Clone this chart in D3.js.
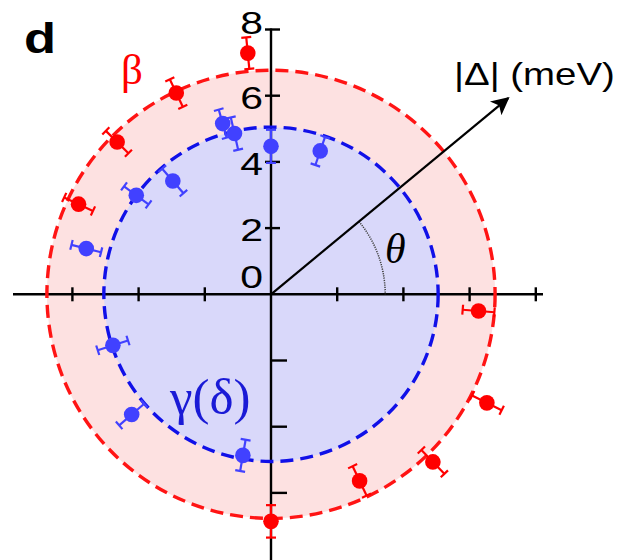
<!DOCTYPE html>
<html>
<head>
<meta charset="utf-8">
<script src="https://cdn.jsdelivr.net/npm/d3@7"></script>
<style>
  html, body { margin: 0; padding: 0; background: #fff; }
  svg { display: block; }
</style>
</head>
<body>
<svg id="chart" width="621" height="560"></svg>
<script>
// Gap magnitude |Δ| (meV) versus Fermi-surface angle θ (degrees), polar view.
const betaAngles = [95.5, 115.2, 135.3, 154.9, -4.6, -26.7, -46.0, -64.6, -90];
const betaGap    = [7.32, 6.72, 6.54, 6.42, 6.29, 7.30, 7.04, 6.24, 6.86];
const betaErr    = [0.48, 0.46, 0.48, 0.48, 0.48, 0.50, 0.50, 0.49, 0.49];

const gammaAngles = [90, 71.05, 105.8, 102.8, 130.9, 143.7, 166.1, 197.9, 220.8, 260.1];
const gammaGap    = [4.47, 4.58, 5.36, 4.98, 4.53, 5.05, 5.75, 5.02, 5.56, 4.94];
const gammaErr    = [0.50, 0.45, 0.44, 0.50, 0.49, 0.46, 0.46, 0.48, 0.50, 0.48];

// Isotropic gap fits for each band (meV)
const betaFit  = 6.77;
const gammaFit = 5.05;

const yTickValues = [8, 6, 4, 2, 0];
const axisTicksPos = [2, 4, 6, 8];
const axisTicksNeg = [-6, -4, -2];

const arrowAngle = 39.6;   // θ marked by the arrow (deg)
const arrowLength = 9.3;   // meV
const thetaArcRadius = 3.45;

const cx = 271, cy = 294.3, unit = 33.1;

const svg = d3.select("#chart");

const x = d3.scaleLinear().domain([-8, 8]).range([cx - 8 * unit, cx + 8 * unit]);
const y = d3.scaleLinear().domain([-8, 8]).range([cy + 8 * unit, cy - 8 * unit]);
const rad = d3.scaleLinear().domain([0, 8]).range([0, 8 * unit]);

const toRad = a => a * Math.PI / 180;
const px = (r, a) => x(r * Math.cos(toRad(a)));
const py = (r, a) => y(r * Math.sin(toRad(a)));

// Filled bands
svg.append("circle").attr("cx", x(0)).attr("cy", y(0)).attr("r", rad(betaFit))
  .attr("fill", "#fde1e1");
svg.append("circle").attr("cx", x(0)).attr("cy", y(0)).attr("r", rad(gammaFit))
  .attr("fill", "#d9d8fa");

// Axes
const axes = svg.append("g").attr("stroke", "#000").attr("stroke-width", 2.4);
axes.append("line").attr("x1", 13).attr("x2", 543).attr("y1", y(0)).attr("y2", y(0));
axes.append("line").attr("x1", x(0)).attr("x2", x(0)).attr("y1", y(8) - 1).attr("y2", 560);
axes.selectAll(".xt").data(axisTicksNeg.concat(axisTicksPos)).join("line")
  .attr("x1", d => x(d)).attr("x2", d => x(d))
  .attr("y1", y(0) - 7).attr("y2", y(0) + 7);
axes.selectAll(".ytp").data(axisTicksPos).join("line")
  .attr("x1", x(0) - 6).attr("x2", x(0) + 9)
  .attr("y1", d => y(d)).attr("y2", d => y(d));
axes.selectAll(".ytn").data(axisTicksNeg).join("line")
  .attr("x1", x(0)).attr("x2", x(0) + 16)
  .attr("y1", d => y(d)).attr("y2", d => y(d));

// Tick labels on the vertical axis
const labelShift = d => d === 8 ? 4 : (d === 0 ? -6 : 13);
svg.selectAll(".ylab").data(yTickValues).join("text")
  .attr("transform", d => `translate(${x(0) - 8},${y(d) + labelShift(d)}) scale(1.32,1)`)
  .attr("text-anchor", "end")
  .attr("font-family", "Liberation Sans, Arial, sans-serif")
  .attr("font-size", 31)
  .attr("fill", "#000")
  .text(d => d);

// Dashed fit circles
svg.append("circle").attr("cx", x(0)).attr("cy", y(0)).attr("r", rad(betaFit))
  .attr("fill", "none").attr("stroke", "#ff1414").attr("stroke-width", 3.4)
  .attr("stroke-dasharray", "13,7");
svg.append("circle").attr("cx", x(0)).attr("cy", y(0)).attr("r", rad(gammaFit))
  .attr("fill", "none").attr("stroke", "#1010e8").attr("stroke-width", 3.4)
  .attr("stroke-dasharray", "13,7");

// θ arc (dotted)
const arc = d3.arc().innerRadius(rad(thetaArcRadius)).outerRadius(rad(thetaArcRadius))
  .startAngle(Math.PI / 2 - toRad(arrowAngle)).endAngle(Math.PI / 2);
svg.append("path").attr("d", arc())
  .attr("transform", `translate(${x(0)},${y(0)})`)
  .attr("fill", "none").attr("stroke", "#444").attr("stroke-width", 1.5)
  .attr("stroke-dasharray", "1,1.3");

// Arrow
svg.append("defs").append("marker")
  .attr("id", "head").attr("viewBox", "0 0 10 10").attr("refX", 9).attr("refY", 5)
  .attr("markerUnits", "userSpaceOnUse").attr("markerWidth", 30).attr("markerHeight", 18)
  .attr("orient", "auto")
  .append("path").attr("d", "M0,0 L10,5 L0,10 L2.5,5 Z").attr("fill", "#000");
svg.append("line")
  .attr("x1", x(0)).attr("y1", y(0))
  .attr("x2", px(arrowLength, arrowAngle)).attr("y2", py(arrowLength, arrowAngle))
  .attr("stroke", "#000").attr("stroke-width", 2.2)
  .attr("marker-end", "url(#head)");

// Data points with radial error bars
function drawSeries(angles, gaps, errs, color) {
  const g = svg.append("g");
  const rows = angles.map((a, i) => ({ a, r: gaps[i], e: errs[i] }));
  const cap = 5;
  rows.forEach(d => {
    const ux = Math.cos(toRad(d.a)), uy = Math.sin(toRad(d.a));
    const lo = d.r - d.e, hi = d.r + d.e;
    g.append("line")
      .attr("x1", px(lo, d.a)).attr("y1", py(lo, d.a))
      .attr("x2", px(hi, d.a)).attr("y2", py(hi, d.a))
      .attr("stroke", color).attr("stroke-width", 2.2);
    [lo, hi].forEach(v => {
      g.append("line")
        .attr("x1", px(v, d.a) - cap * uy).attr("y1", py(v, d.a) - cap * ux)
        .attr("x2", px(v, d.a) + cap * uy).attr("y2", py(v, d.a) + cap * ux)
        .attr("stroke", color).attr("stroke-width", 2.2);
    });
  });
  g.selectAll("circle").data(rows).join("circle")
    .attr("cx", d => px(d.r, d.a)).attr("cy", d => py(d.r, d.a))
    .attr("r", 7.8).attr("fill", color);
}
drawSeries(gammaAngles, gammaGap, gammaErr, "#4141ff");
drawSeries(betaAngles, betaGap, betaErr, "#ff0000");

// Labels
svg.append("text").attr("transform", "translate(24,53) scale(1.25,1)")
  .attr("font-family", "Liberation Sans, Arial, sans-serif").attr("font-weight", "bold")
  .attr("font-size", 42).text("d");
svg.append("text").attr("x", 121).attr("y", 84)
  .attr("font-family", "Liberation Serif, Times New Roman, serif")
  .attr("font-size", 43).attr("fill", "#ff0000").text("β");
svg.append("text").attr("x", 170).attr("y", 414)
  .attr("font-family", "Liberation Serif, Times New Roman, serif")
  .attr("font-size", 51).attr("fill", "#1a1ad6").text("γ(δ)");
svg.append("text").attr("x", 385).attr("y", 263)
  .attr("font-family", "Liberation Serif, Times New Roman, serif").attr("font-style", "italic")
  .attr("font-size", 42).attr("fill", "#000").text("θ");
svg.append("text").attr("transform", "translate(454,85) scale(1.24,1)")
  .attr("font-family", "Liberation Sans, Arial, sans-serif")
  .attr("font-size", 31).attr("fill", "#000").text("|Δ| (meV)");
</script>
</body>
</html>
